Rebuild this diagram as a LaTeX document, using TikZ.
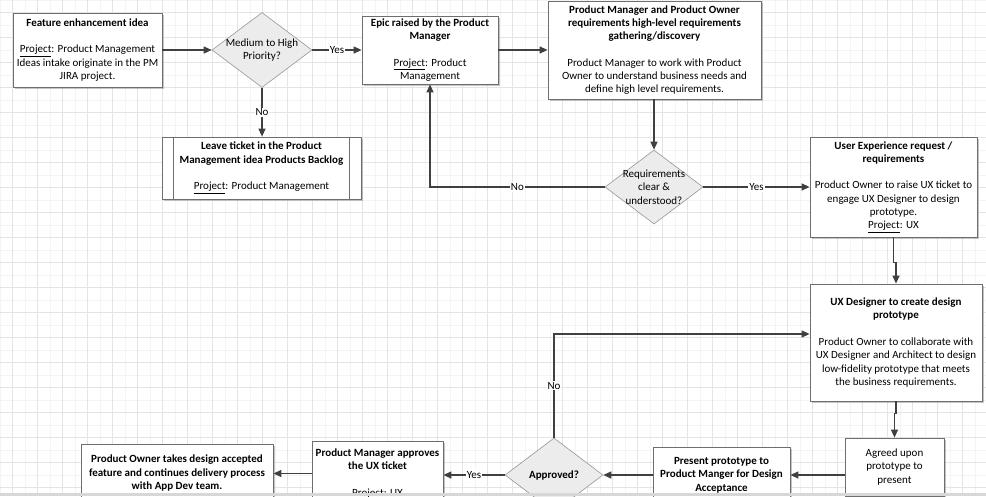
\documentclass[tikz,border=0pt]{standalone}
\usepackage{fontspec}
\setmainfont{Carlito}
\usetikzlibrary{shapes.geometric,arrows.meta,shadows,calc}
\definecolor{gridc}{RGB}{228,228,228}
\definecolor{gridf}{RGB}{244,244,244}
\definecolor{boxb}{RGB}{110,110,110}
\definecolor{arr}{RGB}{64,64,64}
\definecolor{dfill}{RGB}{236,236,236}
\definecolor{dbord}{RGB}{150,150,150}
\definecolor{band}{RGB}{215,215,215}
\begin{document}
\begin{tikzpicture}[x=1pt,y=-1pt,
  box/.style={draw=boxb, line width=0.8pt, fill=white, align=center, inner sep=1pt,
    font=\fontsize{11}{13.3}\selectfont,
    drop shadow={shadow xshift=2pt,shadow yshift=-2pt,fill=black!45,opacity=0.5}},
  dia/.style={diamond, draw=dbord, fill=dfill, line width=0.6pt, inner sep=0pt},
  dtext/.style={align=center, inner sep=0pt, font=\fontsize{11}{13.3}\selectfont},
  conn/.style={draw=arr, line width=1.3pt, -{Triangle[length=8pt,width=7pt]}},
  lab/.style={fill=white, inner sep=1pt, font=\fontsize{11}{12}\selectfont}
]
\useasboundingbox (0,0) rectangle (986,496);
\clip (0,0) rectangle (986,496);
\fill[white] (0,0) rectangle (986,496);
% grid
\foreach \x in {0,25,...,975} {\draw[gridf,line width=0.6pt] (\x,0) -- (\x,496);}
\foreach \y in {0,25,...,475} {\draw[gridf,line width=0.6pt] (0,\y) -- (986,\y);}
\foreach \x in {12.5,37.5,...,975} {\draw[gridc,line width=0.6pt] (\x,0) -- (\x,496);}
\foreach \y in {12.5,37.5,...,490} {\draw[gridc,line width=0.6pt] (0,\y) -- (986,\y);}

% nodes
\node[box, minimum width=149pt, minimum height=74pt] (feat) at (87.5,50)
  {\textbf{Feature enhancement idea}\\[13.3pt]
   \underline{Project}: Product Management\\Ideas intake originate in the PM\\JIRA project.};
\node[dia, minimum width=100pt, minimum height=75pt] (d1) at (262,50) {};
\node[dtext] (d1t) at (d1.center) {Medium to High\\Priority?};
\node[box, minimum width=136pt, minimum height=68pt] (epic) at (430,50)
  {\textbf{Epic raised by the Product}\\\textbf{Manager}\\[13.3pt]
   \underline{Project}: Product\\Management};
\node[box, minimum width=213pt, minimum height=98pt] (pm) at (654.5,50)
  {\textbf{Product Manager and Product Owner}\\\textbf{requirements high-level requirements}\\\textbf{gathering/discovery}\\[13.3pt]
   Product Manager to work with Product\\Owner to understand business needs and\\define high level requirements.};
\node[box, minimum width=199pt, minimum height=62pt] (leave) at (261.5,168)
  {\textbf{Leave ticket in the Product}\\\textbf{Management idea Products Backlog}\\[13.3pt]
   \underline{Project}: Product Management};
\draw[boxb, line width=0.8pt] ([xshift=12pt]leave.north west) -- ([xshift=12pt]leave.south west);
\draw[boxb, line width=0.8pt] ([xshift=-12pt]leave.north east) -- ([xshift=-12pt]leave.south east);
\node[dia, minimum width=98pt, minimum height=74pt] (d2) at (654,187) {};
\node[dtext] (d2t) at (d2.center) {Requirements\\clear \&\\understood?};
\node[box, minimum width=167pt, minimum height=100pt] (uxr) at (893.5,187)
  {\textbf{User Experience request /}\\\textbf{requirements}\\[13.3pt]
   Product Owner to raise UX ticket to\\engage UX Designer to design\\prototype.\\\underline{Project}: UX};
\node[box, minimum width=172pt, minimum height=117pt] (uxd) at (896,342.5)
  {\textbf{UX Designer to create design}\\\textbf{prototype}\\[13.3pt]
   Product Owner to collaborate with\\UX Designer and Architect to design\\low-fidelity prototype that meets\\the business requirements.};
\coordinate (noend) at ([yshift=8.5pt]uxd.west);
\node[box, minimum width=99pt, minimum height=58pt] (agreed) at (894.5,467)
  {Agreed upon\\prototype to\\present};
\node[box, minimum width=137pt, minimum height=56pt] (present) at (721.5,475)
  {\textbf{Present prototype to}\\\textbf{Product Manger for Design}\\\textbf{Acceptance}};
\node[dia, minimum width=98pt, minimum height=74pt] (d3) at (554,475) {};
\node[dtext] (d3t) at (d3.center) {\textbf{Approved?}};
\node[box, minimum width=131pt, minimum height=65pt] (pma) at (377.5,473.5)
  {\textbf{Product Manager approves}\\\textbf{the UX ticket}\\[13.3pt]
   Project: UX};
\node[box, minimum width=192pt, minimum height=58pt] (po) at (177,473)
  {\textbf{Product Owner takes design accepted}\\\textbf{feature and continues delivery process}\\\textbf{with App Dev team.}};

% connectors
\draw[conn] (feat.east) -- (d1.west);
\draw[conn] (d1.east) -- node[lab]{Yes} (epic.west);
\draw[conn] (epic.east) -- (pm.west);
\draw[conn] (d1.south) -- node[lab]{No} (d1.south |- leave.north);
\draw[conn] (pm.south -| d2.north) -- (d2.north);
\draw[conn] (d2.west) -- node[lab]{No} (d2.west -| epic.south) -- (epic.south);
\draw[conn] (d2.east) -- node[lab]{Yes} (uxr.west);
\draw[conn] (uxr.south) -- ++(0,25) -| (uxd.north);
\draw[conn] (uxd.south) -- ++(0,12) -| (agreed.north);
\draw[conn] (present.east -| agreed.west) -- (present.east);
\draw[conn] (present.west) -- (d3.east);
\draw[conn] (d3.west) -- node[lab]{Yes} (d3.west -| pma.east);
\draw[conn] (pma.west) -- (pma.west -| po.east);
\draw[conn] (d3.north) |- node[lab, pos=0.25]{No} (noend);

% bottom band
\fill[band] (0,492.5) rectangle (986,496);
\end{tikzpicture}
\end{document}
